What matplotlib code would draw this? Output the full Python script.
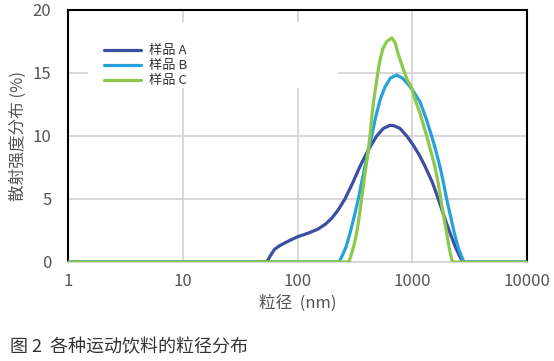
import matplotlib
matplotlib.use('Agg')
import matplotlib.pyplot as plt
from matplotlib.patches import Rectangle
from matplotlib.ticker import FixedLocator, NullLocator

plt.rcParams['font.family'] = ['Noto Sans CJK SC', 'DejaVu Sans']

# particle size (nm) and scattering intensity (%)
size_a = [1, 54, 58, 63, 70, 85, 100, 125, 150, 175, 200, 225, 259, 300, 351, 420, 490, 560,
          640, 700, 782, 895, 1000, 1150, 1292, 1500, 1687, 1900, 2133, 2400, 2609, 2760, 10000]
int_a = [0, 0, 0.5, 1.0, 1.3, 1.7, 2.0, 2.3, 2.6, 3.0, 3.5, 4.1, 5.0, 6.2, 7.6, 9.0, 10.0, 10.6,
         10.85, 10.8, 10.6, 10.0, 9.4, 8.5, 7.6, 6.3, 5.0, 3.6, 2.3, 1.1, 0.4, 0, 0]

size_b = [1, 230, 243, 265, 287, 312, 339, 362, 387, 413, 443, 480, 524, 579, 646, 731, 820,
          900, 1000, 1169, 1320, 1476, 1610, 1745, 1870, 1995, 2160, 2327, 2500, 2700, 2820, 10000]
int_b = [0, 0, 0.42, 1.2, 2.3, 3.6, 5.0, 6.3, 7.56, 8.8, 10.0, 11.5, 12.86, 13.9, 14.6, 14.84, 14.6,
         14.2, 13.7, 12.7, 11.4, 10.0, 8.8, 7.56, 6.3, 5.0, 3.6, 2.3, 1.2, 0.42, 0, 0]

size_c = [1, 280, 290, 310, 328, 345, 362, 378, 395, 412, 428, 443, 458, 475, 490, 505, 520, 553,
          600, 662, 710, 755, 836, 900, 980, 1057, 1169, 1336, 1450, 1578, 1680, 1770, 1880, 1995,
          2100, 2206, 2260, 10000]
int_c = [0, 0, 0.4, 1.3, 2.3, 3.6, 5.0, 6.3, 7.56, 8.8, 10.0, 11.4, 12.6, 13.6, 14.4, 15.2, 15.9,
         16.9, 17.5, 17.8, 17.4, 16.5, 15.3, 14.5, 13.9, 12.9, 11.8, 10.0, 8.8, 7.56, 6.3, 5.0, 3.6,
         2.3, 1.1, 0.2, 0, 0]

labels = ['样品 A', '样品 B', '样品 C']
colors = ['#3b4ea2', '#27a1db', '#8cc84b']
x_ticks = [1, 10, 100, 1000, 10000]
y_ticks = [0, 5, 10, 15, 20]

fig = plt.figure(figsize=(5.54, 3.61), dpi=100)
ax = fig.add_axes([68 / 554, 1 - 262 / 361, 459 / 554, 252 / 361])

for xs, ys, lab, col in zip([size_a, size_b, size_c], [int_a, int_b, int_c], labels, colors):
    ax.plot(xs, ys, color=col, lw=2.3, label=lab, solid_joinstyle='round',
            solid_capstyle='round', zorder=3)

ax.set_xscale('log')
ax.set_xlim(1, 10000)
ax.set_ylim(0, 20)
ax.xaxis.set_major_locator(FixedLocator(x_ticks))
ax.xaxis.set_minor_locator(NullLocator())
ax.set_xticklabels([str(t) for t in x_ticks])
ax.set_yticks(y_ticks)
ax.set_axisbelow(True)
ax.grid(True, color='#d4d4d4', lw=1.3)
ax.tick_params(length=0, labelsize=12, labelcolor='#555555')
ax.tick_params(axis='x', pad=8)
ax.tick_params(axis='y', pad=12)

for s in ['top', 'left', 'right']:
    ax.spines[s].set_color('black')
    ax.spines[s].set_linewidth(1.5)
ax.spines['bottom'].set_color('#d4d4d4')
ax.spines['bottom'].set_linewidth(1.3)

# white area behind the legend hides the grid
ax.add_patch(Rectangle((0.0436, 0.69), 0.545, 0.262, transform=ax.transAxes,
                       facecolor='white', edgecolor='none', zorder=1))

leg = ax.legend(loc='upper left', bbox_to_anchor=(0.055, 0.905), frameon=False,
                fontsize=9.5, handlelength=2.8, handletextpad=0.6, labelspacing=0.15,
                borderpad=0.3)
for t in leg.get_texts():
    t.set_color('#333333')

ax.set_xlabel('粒径  (nm)', fontsize=12, color='#555555', labelpad=3)
ax.set_ylabel('散射强度分布 (%)', fontsize=12, color='#555555', labelpad=4)

fig.text(10 / 554, 1 - 347 / 361, '图 2  各种运动饮料的粒径分布', fontsize=13, color='#333333',
         va='center', ha='left')

fig.savefig('out.png', dpi=100)
